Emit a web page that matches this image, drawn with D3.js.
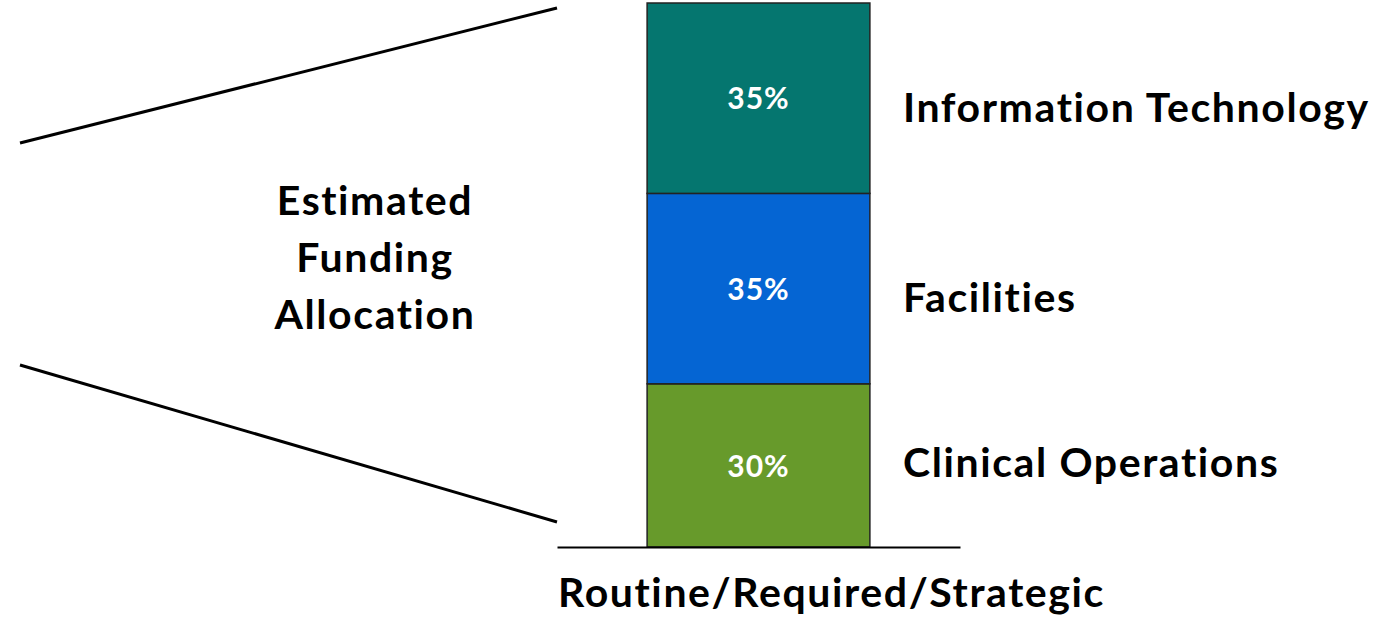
<!DOCTYPE html>
<html>
<head>
<meta charset="utf-8">
<script src="https://cdn.jsdelivr.net/npm/d3@7"></script>
<style>
  body { margin: 0; background: #fff; }
  svg text { font-family: Lato, "Open Sans", sans-serif; font-weight: 700; }
</style>
</head>
<body>
<svg class="chart"></svg>
<script>
// Canvas size
var imageWidth = 1382;
var imageHeight = 620;

// Chart data
var category = "Routine/Required/Strategic";
var segments = ["Clinical Operations", "Facilities", "Information Technology"];
var shares = [30, 35, 35];
var segmentColors = ["#679a2b", "#0565d3", "#05766f"];
var sideTitle = ["Estimated", "Funding", "Allocation"];

// Baseline shift of each name label from its segment's middle (px)
var nameShift = [11.5, 23.5, 24];

var labelSize = "41px";
var labelSpacing = "1.6px";

var canvas = d3.select(".chart")
    .attr("width", imageWidth)
    .attr("height", imageHeight);

// Scales
var xScale = d3.scaleBand()
    .domain([category])
    .range([557, 960])
    .padding(0.288);

var yScale = d3.scaleLinear()
    .domain([0, 100])
    .range([547, 3]);

// Stack the shares bottom to top
var stacked = [];
var running = 0;
shares.forEach(function(v, i) {
    stacked.push({ name: segments[i], value: v, y0: running, y1: running + v, color: segmentColors[i], shift: nameShift[i] });
    running += v;
});

// Decorative bracket lines to the left of the bar
canvas.append("line")
    .attr("x1", 20).attr("y1", 143)
    .attr("x2", 557).attr("y2", 8)
    .attr("stroke", "#000").attr("stroke-width", 3);
canvas.append("line")
    .attr("x1", 20).attr("y1", 365)
    .attr("x2", 557).attr("y2", 522)
    .attr("stroke", "#000").attr("stroke-width", 3);

// Bar segments
var bar = canvas.selectAll("g.segment")
    .data(stacked)
    .enter().append("g")
    .attr("class", "segment");

bar.append("rect")
    .attr("x", xScale(category))
    .attr("y", function(d) { return yScale(d.y1); })
    .attr("width", xScale.bandwidth())
    .attr("height", function(d) { return yScale(d.y0) - yScale(d.y1); })
    .attr("fill", function(d) { return d.color; })
    .attr("stroke", "#222")
    .attr("stroke-width", 1.5);

// Percent labels inside the bar
bar.append("text")
    .attr("x", xScale(category) + xScale.bandwidth() / 2)
    .attr("y", function(d) { return yScale((d.y0 + d.y1) / 2); })
    .attr("dy", "0.37em")
    .attr("text-anchor", "middle")
    .attr("fill", "#fff")
    .style("font-size", "30px")
    .style("letter-spacing", "1px")
    .text(function(d) { return d.value + "%"; });

// Segment names on the right
bar.append("text")
    .attr("x", 903)
    .attr("y", function(d) { return yScale((d.y0 + d.y1) / 2) + d.shift; })
    .attr("fill", "#000")
    .style("font-size", labelSize)
    .style("letter-spacing", labelSpacing)
    .text(function(d) { return d.name; });

// Baseline axis with the category label
var xAxis = canvas.append("g")
    .attr("transform", "translate(0," + yScale(0) + ")")
    .call(d3.axisBottom(xScale).tickSize(0).tickSizeOuter(0).tickPadding(31));

xAxis.select(".domain")
    .attr("stroke", "#000")
    .attr("stroke-width", 2);

// Category label sits a little right of the bar centre
xAxis.selectAll(".tick text")
    .attr("dx", 73)
    .attr("fill", "#000")
    .style("font-family", "Lato, 'Open Sans', sans-serif")
    .style("font-weight", 700)
    .style("font-size", labelSize)
    .style("letter-spacing", labelSpacing);

// Side title
canvas.append("text")
    .attr("x", 375)
    .attr("y", 215)
    .attr("text-anchor", "middle")
    .attr("fill", "#000")
    .style("font-size", labelSize)
    .style("letter-spacing", labelSpacing)
    .selectAll("tspan")
    .data(sideTitle)
    .enter().append("tspan")
    .attr("x", 375)
    .attr("dy", function(d, i) { return i === 0 ? 0 : 57; })
    .text(function(d) { return d; });
</script>
</body>
</html>
